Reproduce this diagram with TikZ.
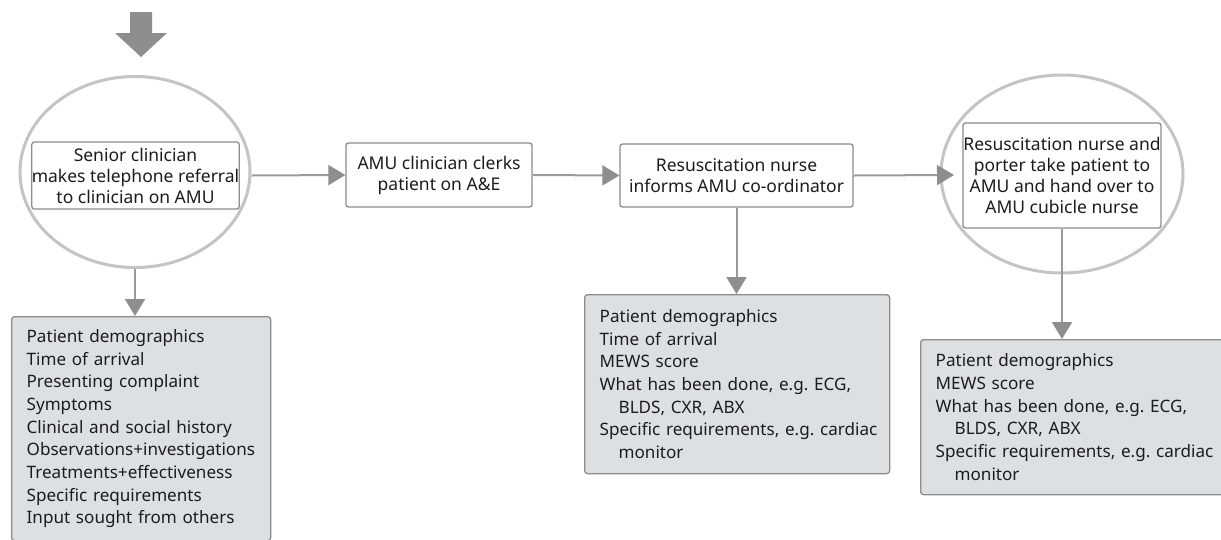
\documentclass[tikz,border=0pt]{standalone}
\usepackage{fontspec}
\setmainfont{Noto Sans}
\usetikzlibrary{arrows.meta,shapes.geometric,calc}
\frenchspacing

\definecolor{halogray}{HTML}{C4C4C4}
\definecolor{boxgray}{HTML}{8C8C8C}
\definecolor{linkgray}{HTML}{9A9A9A}
\definecolor{headgray}{HTML}{8E8E8E}
\definecolor{infofill}{HTML}{DEDFE1}
\definecolor{inkgray}{HTML}{1E1B1C}

\tikzset{
  halo/.style={ellipse, draw=halogray, line width=3, inner sep=0},
  flowbox/.style={draw=boxgray, line width=1.3, rounded corners=2.5, fill=white,
    align=center, inner sep=0, text=inkgray,
    font=\fontsize{17.5}{21}\selectfont},
  infobox/.style={draw=boxgray, line width=1.3, rounded corners=3, fill=infofill,
    align=left, anchor=north west, inner xsep=15, inner ysep=0, text=inkgray,
    font=\fontsize{17.1}{22.7}\selectfont},
  link/.style={draw=linkgray, line width=2,
    -{Triangle[length=17,width=20,fill=headgray,color=headgray]}},
}

\begin{document}
\begin{tikzpicture}[x=1pt,y=-1pt]
\useasboundingbox (0,0) rectangle (1221,539);

% entry arrow
\fill[headgray] (130,12) -- (152,12) -- (152,33) -- (167,33) -- (141,57)
  -- (115,33) -- (130,33) -- cycle;

% main flow
\node[halo, minimum width=230, minimum height=191] (ring1) at (135,172) {};
\node[flowbox, minimum width=207, minimum height=67] (refer) at (135.5,175.5)
  {Senior clinician\\makes telephone referral\\to clinician on AMU};
\node[flowbox, minimum width=186, minimum height=64] (clerk) at (439,175)
  {AMU clinician clerks\\patient on A\&E};
\node[flowbox, minimum width=233, minimum height=63] (inform) at (736.5,175.5)
  {Resuscitation nurse\\informs AMU co-ordinator};
\node[halo, minimum width=242, minimum height=198] (ring2) at (1062,174) {};
\node[flowbox, minimum width=198, minimum height=105] (handover) at (1062,175.5)
  {Resuscitation nurse and\\porter take patient to\\AMU and hand over to\\AMU cubicle nurse};
\coordinate (ring2in) at (954,175);

% information boxes
\node[infobox, text width=229, minimum width=259, minimum height=224] (info1) at (11,316)
  {Patient demographics\\Time of arrival\\Presenting complaint\\Symptoms\\
   Clinical and social history\\\mbox{Observations+investigations}\\
   Treatments+effectiveness\\Specific requirements\\Input sought from others};
\node[infobox, text width=275, minimum width=305, minimum height=179] (info2) at (584,294)
  {Patient demographics\\Time of arrival\\MEWS score\\
   \mbox{What has been done, e.g. ECG,}\\\hspace*{19pt}BLDS, CXR, ABX\\
   \mbox{Specific requirements, e.g. cardiac}\\\hspace*{19pt}monitor};
\node[infobox, text width=276, minimum width=306, minimum height=155] (info3) at (920,339)
  {Patient demographics\\MEWS score\\
   \mbox{What has been done, e.g. ECG,}\\\hspace*{19pt}BLDS, CXR, ABX\\
   \mbox{Specific requirements, e.g. cardiac}\\\hspace*{19pt}monitor};

% connectors
\draw[link] (ring1.east |- refer.east) -- (clerk.west);
\draw[link] (clerk.east) -- (inform.west);
\draw[link] (inform.east) -- (ring2in);
\draw[link] (ring1.south) -- (ring1.south |- info1.north);
\draw[link] (inform.south) -- (inform.south |- info2.north);
\draw[link] (handover.south) -- (handover.south |- info3.north);
\end{tikzpicture}
\end{document}
